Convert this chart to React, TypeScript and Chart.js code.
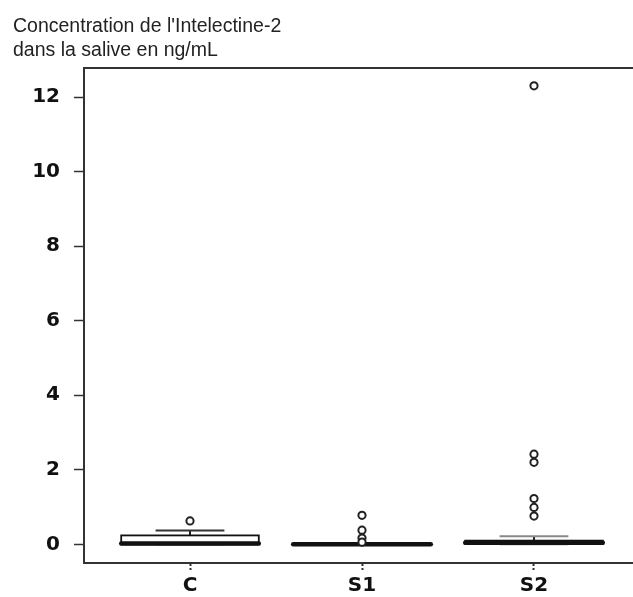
import React, { useEffect, useRef } from 'react';
import { Chart, registerables } from 'chart.js';

Chart.register(...registerables);

// ---- data ----
const categories = ['C', 'S1', 'S2'];
const q1Values = [0, 0, 0.01];
const medianValues = [0.02, 0, 0.04];
const q3Values = [0.24, 0.01, 0.1];
const whiskerLowValues = [0, 0, 0];
const whiskerHighValues = [0.37, 0.02, 0.22];
const outliersC = [0.63];
const outliersS1 = [0.78, 0.38, 0.17, 0.06];
const outliersS2 = [12.3, 2.42, 2.2, 1.23, 0.99, 0.76];
const yTickValues = [0, 2, 4, 6, 8, 10, 12];
const titleLines = ["Concentration de l'Intelectine-2", 'dans la salive en ng/mL'];

const outlierGroups = [outliersC, outliersS1, outliersS2];

const capColors = ['#333', '#222', '#888'];

const boxPlugin = {
  id: 'boxes',
  beforeDatasetsDraw(chart: any) {
    const { ctx } = chart;
    const x = chart.scales.x;
    const y = chart.scales.y;
    const line = (x1: number, y1: number, x2: number, y2: number) => {
      ctx.beginPath();
      ctx.moveTo(x1, y1);
      ctx.lineTo(x2, y2);
      ctx.stroke();
    };
    ctx.save();
    categories.forEach((_c, i) => {
      const xc = x.getPixelForValue(i + 1);
      const half = x.getPixelForValue(i + 1 + 0.4) - xc;
      const capHalf = x.getPixelForValue(i + 1 + 0.2) - xc;
      const yQ1 = y.getPixelForValue(q1Values[i]);
      const yQ3 = y.getPixelForValue(q3Values[i]);
      const yMed = y.getPixelForValue(medianValues[i]);
      const yLo = y.getPixelForValue(whiskerLowValues[i]);
      const yHi = y.getPixelForValue(whiskerHighValues[i]);
      // whiskers
      ctx.strokeStyle = '#222';
      ctx.lineWidth = 2;
      line(xc, yQ3, xc, yHi);
      line(xc, yQ1, xc, yLo);
      // caps
      ctx.strokeStyle = capColors[i];
      ctx.lineWidth = 2;
      line(xc - capHalf, yHi, xc + capHalf, yHi);
      line(xc - capHalf, yLo, xc + capHalf, yLo);
      // box
      ctx.fillStyle = '#fff';
      ctx.strokeStyle = '#111';
      ctx.lineWidth = 1.8;
      ctx.fillRect(xc - half, yQ3, half * 2, yQ1 - yQ3);
      ctx.strokeRect(xc - half, yQ3, half * 2, yQ1 - yQ3);
      // median
      ctx.lineWidth = 4.5;
      ctx.lineCap = 'round';
      line(xc - half, yMed, xc + half, yMed);
      ctx.lineCap = 'butt';
    });
    ctx.restore();
  },
  afterDraw(chart: any) {
    const { ctx, chartArea } = chart;
    ctx.save();
    ctx.strokeStyle = '#333';
    ctx.lineWidth = 2;
    ctx.beginPath();
    ctx.moveTo(chartArea.left - 1, chartArea.top);
    ctx.lineTo(chartArea.right, chartArea.top);
    ctx.stroke();
    ctx.restore();
  },
};

export default function App() {
  const canvasRef = useRef<HTMLCanvasElement | null>(null);

  useEffect(() => {
    document.body.style.margin = '0';
    const canvas = canvasRef.current;
    if (!canvas) return;

    const outlierPoints: { x: number; y: number }[] = [];
    outlierGroups.forEach((group, i) => {
      group.forEach((v) => outlierPoints.push({ x: i + 1, y: v }));
    });

    const tickFont = { family: 'DejaVu Sans', size: 20, weight: 'bold' as const };

    const chart = new Chart(canvas, {
      type: 'scatter',
      data: {
        datasets: [
          {
            data: outlierPoints,
            pointRadius: 3.6,
            pointBorderWidth: 2,
            borderColor: '#222',
            backgroundColor: '#fff',
            pointBackgroundColor: '#fff',
            pointBorderColor: '#222',
            clip: false as any,
          },
        ],
      },
      options: {
        responsive: false,
        animation: false,
        layout: { autoPadding: false, padding: { left: 13, right: 0, top: 0, bottom: 0 } },
        plugins: {
          legend: { display: false },
          tooltip: { enabled: false },
          title: {
            display: true,
            text: titleLines,
            align: 'start',
            color: '#222',
            font: { family: 'Liberation Sans', size: 19.5, weight: 'normal', lineHeight: 1.23 },
            padding: { top: 14.2, bottom: 5.8 },
          },
        },
        scales: {
          x: {
            type: 'linear',
            min: 0.3837,
            max: 3.5756,
            afterBuildTicks: (s: any) => {
              s.ticks = categories.map((_c, i) => ({ value: i + 1 }));
            },
            afterFit: (s: any) => {
              s.height = 34;
            },
            ticks: {
              callback: (_v: any, index: number) => categories[index],
              font: tickFont,
              color: '#111',
              padding: 3,
              maxRotation: 0,
              autoSkip: false,
            },
            grid: {
              drawOnChartArea: false,
              drawTicks: true,
              tickLength: 8,
              tickColor: '#333',
              tickWidth: 2,
              tickBorderDash: [2, 2],
            },
            border: { display: true, color: '#333', width: 2 },
          },
          y: {
            type: 'linear',
            min: -0.5,
            max: 12.78,
            afterBuildTicks: (s: any) => {
              s.ticks = yTickValues.map((v) => ({ value: v }));
            },
            afterFit: (s: any) => {
              s.width = 71;
            },
            ticks: {
              font: tickFont,
              color: '#111',
              padding: 14,
            },
            grid: {
              drawOnChartArea: false,
              drawTicks: true,
              tickLength: 10,
              tickColor: '#333',
              tickWidth: 1.5,
            },
            border: { display: true, color: '#333', width: 2 },
          },
        },
      } as any,
      plugins: [boxPlugin],
    });

    return () => {
      chart.destroy();
    };
  }, []);

  return (
    <div style={{ width: 633, height: 597 }}>
      <canvas ref={canvasRef} width={633} height={597} style={{ display: 'block' }} />
    </div>
  );
}
